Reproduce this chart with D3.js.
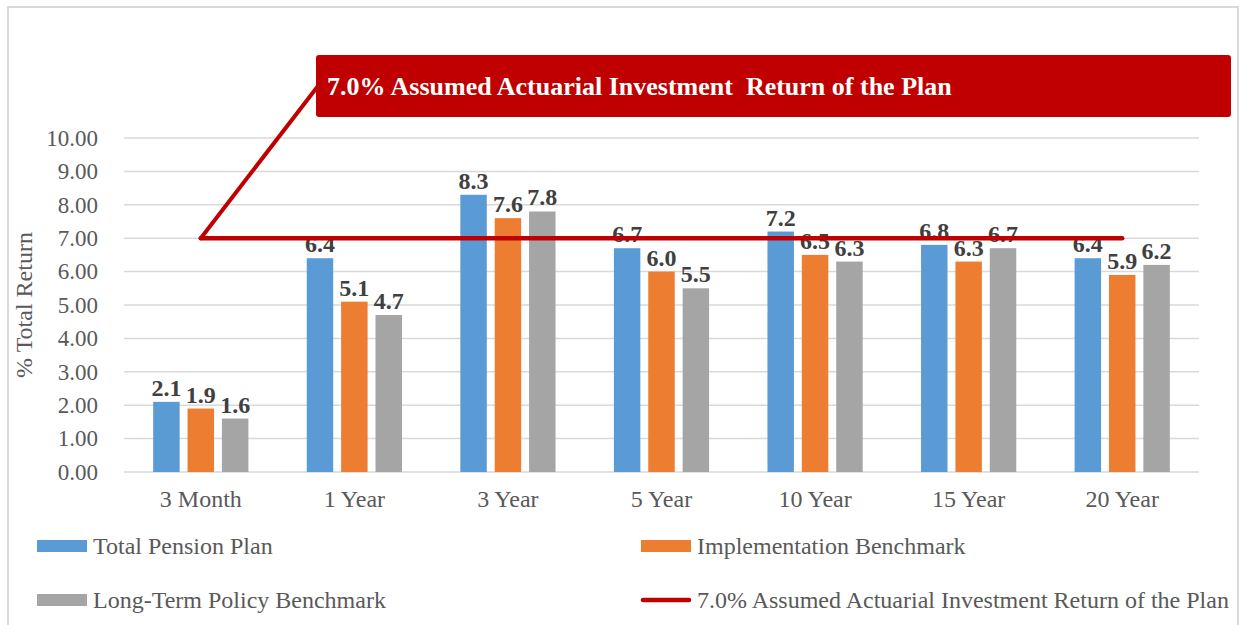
<!DOCTYPE html>
<meta charset="utf-8">

<!-- Load d3.js -->
<script src="https://d3js.org/d3.v7.min.js"></script>

<style>
    body { margin: 0; background: #fff; }
    text { font-family: "Liberation Serif", "Times New Roman", serif; }
</style>

<div id="my_chart">
    <svg></svg>
</div>

<script>
    // data
    var periods = ["3 Month", "1 Year", "3 Year", "5 Year", "10 Year", "15 Year", "20 Year"];
    var seriesNames = ["Total Pension Plan", "Implementation Benchmark", "Long-Term Policy Benchmark"];
    var totalPlan = [2.1, 6.4, 8.3, 6.7, 7.2, 6.8, 6.4];
    var implBenchmark = [1.9, 5.1, 7.6, 6.0, 6.5, 6.3, 5.9];
    var policyBenchmark = [1.6, 4.7, 7.8, 5.5, 6.3, 6.7, 6.2];
    var assumedReturn = 7.0;
    var assumedLabel = "7.0% Assumed Actuarial Investment Return of the Plan";
    var calloutLabel = "7.0% Assumed Actuarial Investment  Return of the Plan";
    var yTicks = [0, 1, 2, 3, 4, 5, 6, 7, 8, 9, 10];

    var colors = ["#5B9BD5", "#ED7D31", "#A5A5A5"];
    var red = "#C00000";

    var width = 1244, height = 625;
    var plot = {left: 124, right: 1199, top: 138, bottom: 472};

    var svg = d3.select("#my_chart").select("svg")
        .attr("width", width)
        .attr("height", height);

    // outer frame
    svg.append("rect")
        .attr("x", 8).attr("y", 7)
        .attr("width", 1230).attr("height", 640)
        .attr("fill", "#fff")
        .attr("stroke", "#d9d9d9")
        .attr("stroke-width", 2);

    // scales
    var x0 = d3.scaleBand()
        .domain(periods)
        .range([plot.left, plot.right])
        .paddingInner(0.38)
        .paddingOuter(0.19);

    var x1 = d3.scaleBand()
        .domain(d3.range(seriesNames.length))
        .range([0, x0.bandwidth()])
        .paddingInner(0.23);

    var y = d3.scaleLinear()
        .domain([0, 10])
        .range([plot.bottom, plot.top]);

    // gridlines
    svg.append("g")
        .selectAll("line")
        .data(yTicks)
        .join("line")
        .attr("x1", plot.left)
        .attr("x2", plot.right)
        .attr("y1", function(d) { return y(d); })
        .attr("y2", function(d) { return y(d); })
        .attr("stroke", "#d9d9d9")
        .attr("stroke-width", 1.5);

    // Y axis
    var yAxis = svg.append("g")
        .attr("transform", "translate(" + plot.left + ",0)")
        .call(d3.axisLeft(y).tickValues(yTicks).tickFormat(d3.format(".2f")).tickSize(0).tickPadding(26));
    yAxis.select(".domain").remove();
    yAxis.selectAll("text")
        .style("font-size", "23px")
        .attr("fill", "#595959");

    // X axis
    var xAxis = svg.append("g")
        .attr("transform", "translate(0," + plot.bottom + ")")
        .call(d3.axisBottom(x0).tickSize(0).tickPadding(18));
    xAxis.select(".domain").remove();
    xAxis.selectAll("text")
        .style("font-size", "24px")
        .attr("fill", "#595959");

    // Y axis title
    svg.append("text")
        .attr("transform", "translate(32," + ((plot.top + plot.bottom) / 2) + ") rotate(-90)")
        .attr("text-anchor", "middle")
        .style("font-size", "24px")
        .attr("fill", "#595959")
        .text("% Total Return");

    // bars
    var series = [totalPlan, implBenchmark, policyBenchmark];
    var groups = svg.append("g")
        .selectAll("g")
        .data(periods)
        .join("g")
        .attr("transform", function(d) { return "translate(" + x0(d) + ",0)"; });

    groups.selectAll("rect")
        .data(function(d, i) { return series.map(function(s, k) { return {k: k, v: s[i]}; }); })
        .join("rect")
        .attr("x", function(d) { return x1(d.k); })
        .attr("y", function(d) { return y(d.v); })
        .attr("width", x1.bandwidth())
        .attr("height", function(d) { return y(0) - y(d.v); })
        .attr("fill", function(d) { return colors[d.k]; });

    // data labels
    groups.selectAll("text")
        .data(function(d, i) { return series.map(function(s, k) { return {k: k, v: s[i]}; }); })
        .join("text")
        .attr("x", function(d) { return x1(d.k) + x1.bandwidth() / 2; })
        .attr("y", function(d) { return y(d.v) - 6; })
        .attr("text-anchor", "middle")
        .style("font-size", "24px")
        .style("font-weight", "bold")
        .attr("fill", "#404040")
        .text(function(d) { return d3.format(".1f")(d.v); });

    // assumed return line, from first to last category centre
    var firstX = x0(periods[0]) + x0.bandwidth() / 2;
    var lastX = x0(periods[periods.length - 1]) + x0.bandwidth() / 2;
    svg.append("line")
        .attr("x1", firstX).attr("x2", lastX)
        .attr("y1", y(assumedReturn)).attr("y2", y(assumedReturn))
        .attr("stroke", red)
        .attr("stroke-width", 4.5)
        .attr("stroke-linecap", "round");

    // callout box
    var box = {x: 316, y: 55, w: 915, h: 62};
    svg.append("line")
        .attr("x1", firstX).attr("y1", y(assumedReturn))
        .attr("x2", box.x + 2).attr("y2", box.y + box.h / 2)
        .attr("stroke", red)
        .attr("stroke-width", 4)
        .attr("stroke-linecap", "round");
    svg.append("rect")
        .attr("x", box.x).attr("y", box.y)
        .attr("width", box.w).attr("height", box.h)
        .attr("rx", 3)
        .attr("fill", red);
    svg.append("text")
        .attr("x", box.x + 11)
        .attr("y", box.y + 40)
        .style("font-size", "26px")
        .style("font-weight", "bold")
        .style("white-space", "pre")
        .attr("fill", "#fff")
        .text(calloutLabel);

    // legend
    var legendItems = [
        {label: seriesNames[0], color: colors[0], type: "bar", x: 37, y: 546},
        {label: seriesNames[1], color: colors[1], type: "bar", x: 641, y: 546},
        {label: seriesNames[2], color: colors[2], type: "bar", x: 37, y: 600},
        {label: assumedLabel, color: red, type: "line", x: 641, y: 600}
    ];
    var legend = svg.append("g")
        .selectAll("g")
        .data(legendItems)
        .join("g")
        .attr("transform", function(d) { return "translate(" + d.x + "," + d.y + ")"; });

    legend.filter(function(d) { return d.type === "bar"; })
        .append("rect")
        .attr("x", 0).attr("y", -6)
        .attr("width", 50).attr("height", 12)
        .attr("fill", function(d) { return d.color; });

    legend.filter(function(d) { return d.type === "line"; })
        .append("line")
        .attr("x1", 2).attr("x2", 48)
        .attr("y1", 0).attr("y2", 0)
        .attr("stroke", function(d) { return d.color; })
        .attr("stroke-width", 4.5)
        .attr("stroke-linecap", "round");

    legend.append("text")
        .attr("x", 56)
        .attr("y", 8)
        .style("font-size", "24px")
        .attr("fill", "#595959")
        .text(function(d) { return d.label; });
</script>
